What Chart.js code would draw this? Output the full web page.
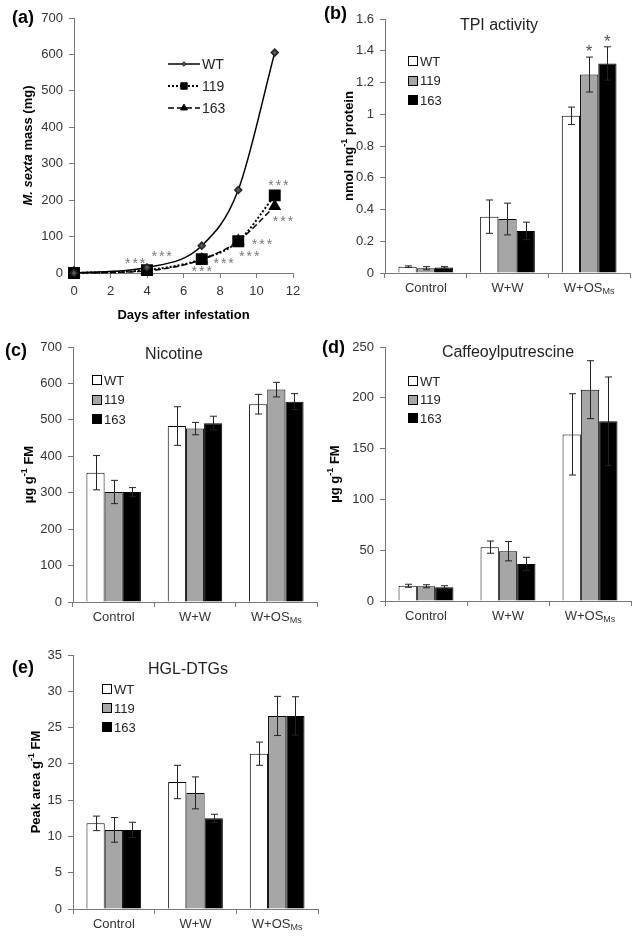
<!DOCTYPE html>
<html>
<head>
<meta charset="utf-8">
<script src="https://cdn.jsdelivr.net/npm/chart.js@4.4.1/dist/chart.umd.min.js"></script>
<style>
  html, body { margin: 0; padding: 0; background: #fff; }
  #page { position: relative; width: 644px; height: 943px; }
  #page canvas { position: absolute; }
</style>
</head>
<body>
<div id="page">
  <canvas id="chartA" width="322" height="330" style="left:0;top:0"></canvas>
  <canvas id="chartB" width="322" height="310" style="left:322px;top:0"></canvas>
  <canvas id="chartC" width="322" height="300" style="left:0;top:330px"></canvas>
  <canvas id="chartD" width="322" height="320" style="left:322px;top:310px"></canvas>
  <canvas id="chartE" width="322" height="313" style="left:0;top:630px"></canvas>
</div>
<script>
// ---- data ----
const groups = ['Control', 'W+W', 'W+OS_Ms'];
const lines = ['WT', '119', '163'];
const barFill = ['#ffffff', '#a6a6a6', '#000000'];

// (a) larval mass, mg
const days = [0, 4, 7, 9, 11];
const massWT = [0, 15, 75, 228, 605];
const mass119 = [0, 8, 38, 87, 213];
const mass163 = [0, 6, 37, 88, 183];
const massTicksX = [0, 12, 2];
const massTicksY = [0, 700, 100];
// where the "***" marks sit, in data units (day, mg)
const massStars = [[3.35, 36], [4.8, 55], [7.0, 14], [8.2, 36], [9.6, 56], [10.3, 89], [11.2, 251], [11.45, 151]];

// (b) TPI activity, rows = WT, 119, 163
const tpiMean = [[0.04, 0.355, 0.99], [0.03, 0.34, 1.25], [0.035, 0.265, 1.32]];
const tpiErr = [[0.005, 0.105, 0.055], [0.01, 0.10, 0.11], [0.005, 0.055, 0.105]];
const tpiStars = [[1, 2], [2, 2]]; // [line, group]

// (c) nicotine
const nicMean = [[355, 483, 543], [302, 476, 583], [302, 491, 550]];
const nicErr = [[47, 53, 27], [32, 17, 20], [12, 19, 22]];

// (d) caffeoylputrescine
const cpMean = [[15, 53, 164], [14.5, 49, 208], [13.5, 36.5, 177]];
const cpErr = [[1.5, 6, 40], [1.5, 9.5, 28.5], [1.5, 6.5, 43.5]];

// (e) HGL-DTGs
const hglMean = [[11.8, 17.5, 21.4], [10.9, 16.0, 26.6], [10.9, 12.5, 26.6]];
const hglErr = [[1.0, 2.3, 1.6], [1.7, 2.2, 2.7], [1.05, 0.55, 2.65]];

// ---- drawing helpers ----
const FONT = "'Liberation Sans', Arial, sans-serif";
const AXIS = '#777';

function segFont(s, size, weight) {
  const small = s[1] === 'sup' || s[1] === 'sub';
  return (s[1] === 'i' ? 'italic ' : '') + weight + ' ' + (small ? Math.round(size * 0.72) : size) + 'px ' + FONT;
}

function drawRich(ctx, segs, x, y, size, weight, align) {
  let w = 0;
  segs.forEach(s => { ctx.font = segFont(s, size, weight); w += ctx.measureText(s[0]).width; });
  let cx = align === 'center' ? x - w / 2 : x;
  ctx.textAlign = 'left';
  segs.forEach(s => {
    ctx.font = segFont(s, size, weight);
    const dy = s[1] === 'sup' ? -size * 0.35 : (s[1] === 'sub' ? size * 0.28 : 0);
    ctx.fillText(s[0], cx, y + dy);
    cx += ctx.measureText(s[0]).width;
  });
}

function parseLabel(t) {
  const p = t.split('_');
  return p.length > 1 ? [[p[0], ''], [p[1], 'sub']] : [[t, '']];
}

const decor = {
  id: 'decor',
  afterDatasetsDraw(chart, args, o) {
    const ctx = chart.ctx, ys = chart.scales.y;
    ctx.save();
    // error bars
    chart.data.datasets.forEach((ds, d) => {
      if (!ds.errors) return;
      const meta = chart.getDatasetMeta(d);
      meta.data.forEach((bar, i) => {
        const y1 = ys.getPixelForValue(ds.data[i] + ds.errors[i]);
        const y2 = ys.getPixelForValue(ds.data[i] - ds.errors[i]);
        const x = Math.round(bar.x) + 0.5;
        ctx.strokeStyle = '#222';
        ctx.lineWidth = 1;
        ctx.beginPath();
        ctx.moveTo(x, y1); ctx.lineTo(x, y2);
        ctx.moveTo(x - 3.5, y1); ctx.lineTo(x + 3.5, y1);
        ctx.moveTo(x - 3.5, y2); ctx.lineTo(x + 3.5, y2);
        ctx.stroke();
      });
    });
    // significance stars over bars
    if (o.barStars) {
      ctx.fillStyle = '#555';
      ctx.font = '17px ' + FONT;
      ctx.textAlign = 'center';
      ctx.textBaseline = 'alphabetic';
      o.barStars.forEach(([d, i]) => {
        const ds = chart.data.datasets[d];
        const bar = chart.getDatasetMeta(d).data[i];
        const top = ys.getPixelForValue(ds.data[i] + ds.errors[i]);
        ctx.fillText('*', bar.x, top - 10 + 17 * 0.6);
      });
    }
    // significance stars on the growth curve
    if (o.pointStars) {
      const xs = chart.scales.x;
      ctx.fillStyle = '#777';
      ctx.font = '14px ' + FONT;
      ctx.letterSpacing = '2px';
      ctx.textAlign = 'center';
      ctx.textBaseline = 'alphabetic';
      o.pointStars.forEach(([px, py]) => {
        ctx.fillText('***', xs.getPixelForValue(px) + 1, ys.getPixelForValue(py) + 14 * 0.6);
      });
      ctx.letterSpacing = '0px';
    }
    ctx.restore();
  },
  afterDraw(chart, args, o) {
    const ctx = chart.ctx, area = chart.chartArea;
    ctx.save();
    ctx.fillStyle = '#000';
    ctx.textBaseline = 'middle';
    // panel letter
    ctx.font = 'bold 18px ' + FONT;
    ctx.textAlign = 'left';
    ctx.fillText(o.panel[0], o.panel[1], o.panel[2]);
    // panel title
    if (o.title) {
      ctx.font = '16px ' + FONT;
      ctx.fillStyle = '#222';
      ctx.textAlign = 'center';
      ctx.fillText(o.title[0], o.title[1], o.title[2]);
    }
    // y axis title
    ctx.fillStyle = '#000';
    ctx.save();
    ctx.translate(o.yTitle[1], (area.top + area.bottom) / 2);
    ctx.rotate(-Math.PI / 2);
    drawRich(ctx, o.yTitle[0], 0, 0, 13, 'bold', 'center');
    ctx.restore();
    // x axis title
    if (o.xTitle) {
      drawRich(ctx, [[o.xTitle[0], '']], (area.left + area.right) / 2, o.xTitle[1], 13, 'bold', 'center');
    }
    // category labels with subscripts
    if (o.catLabels) {
      const xs = chart.scales.x;
      ctx.fillStyle = '#333';
      chart.data.labels.forEach((lab, i) => {
        drawRich(ctx, parseLabel(lab), xs.getPixelForValue(i), area.bottom + o.catLabels, 13, 'normal', 'center');
      });
    }
    // legend
    const lg = o.legend;
    chart.data.datasets.forEach((ds, k) => {
      const y = lg.y + k * lg.gap;
      if (lg.type === 'box') {
        ctx.fillStyle = ds.backgroundColor;
        ctx.fillRect(lg.x, Math.round(y) - 5, 10, 10);
        ctx.strokeStyle = '#000';
        ctx.lineWidth = 1;
        ctx.strokeRect(lg.x + 0.5, Math.round(y) - 4.5, 9, 9);
        ctx.fillStyle = '#222';
        ctx.font = '13px ' + FONT;
        ctx.textAlign = 'left';
        ctx.fillText(ds.label, lg.x + 12, y + 1);
      } else {
        ctx.strokeStyle = ds.borderColor;
        ctx.lineWidth = ds.borderWidth;
        ctx.setLineDash(ds.borderDash || []);
        ctx.beginPath();
        ctx.moveTo(lg.x, y); ctx.lineTo(lg.x + 32, y);
        ctx.stroke();
        ctx.setLineDash([]);
        ctx.fillStyle = ds.pointBackgroundColor;
        ctx.strokeStyle = ds.pointBorderColor;
        ctx.lineWidth = 1;
        Chart.helpers.drawPoint(ctx, { pointStyle: ds.pointStyle, radius: ds.pointRadius * 0.65, rotation: 0, borderWidth: 1 }, lg.x + 16, y);
        ctx.fillStyle = '#222';
        ctx.font = '14px ' + FONT;
        ctx.textAlign = 'left';
        ctx.fillText(ds.label, lg.x + 34, y + 1);
      }
    });
    ctx.restore();
  }
};

function numAxis(range, width, pos) {
  return {
    type: 'linear',
    position: pos,
    min: range[0], max: range[1],
    ticks: {
      stepSize: range[2], color: '#333', padding: 6,
      font: { family: FONT, size: 13 },
      callback: v => String(Number(v.toFixed(2)))
    },
    grid: { drawOnChartArea: false, color: AXIS, tickLength: 5 },
    border: { color: AXIS },
    afterFit: s => { if (pos === 'left') s.width = width; else s.height = width; }
  };
}

function barChart(id, means, errs, yRange, box, extra) {
  const canvas = document.getElementById(id);
  return new Chart(canvas, {
    type: 'bar',
    data: {
      labels: groups,
      datasets: lines.map((name, k) => ({
        label: name,
        data: means[k],
        errors: errs[k],
        backgroundColor: barFill[k],
        borderColor: '#000',
        borderWidth: 1,
        categoryPercentage: 0.67,
        barPercentage: 1.0
      }))
    },
    options: {
      responsive: false,
      animation: false,
      layout: { padding: { left: 0, top: box.top, right: canvas.width - box.right, bottom: 0 } },
      scales: {
        x: {
          type: 'category',
          offset: true,
          grid: { offset: true, drawOnChartArea: false, color: AXIS, tickLength: 5 },
          border: { color: AXIS },
          ticks: { display: false },
          afterFit: s => { s.height = canvas.height - box.bottom; }
        },
        y: numAxis(yRange, box.left, 'left')
      },
      plugins: {
        legend: { display: false },
        tooltip: { enabled: false },
        decor: Object.assign({ catLabels: 15 }, extra)
      }
    },
    plugins: [decor]
  });
}

// ---- (a) growth curve ----
const canvasA = document.getElementById('chartA');
const toPts = arr => days.map((d, i) => ({ x: d, y: arr[i] }));
new Chart(canvasA, {
  type: 'line',
  data: {
    datasets: [
      { label: 'WT', data: toPts(massWT), borderColor: '#000', borderWidth: 1.5,
        pointStyle: 'rectRot', pointRadius: 3.5, pointBackgroundColor: '#555', pointBorderColor: '#222',
        cubicInterpolationMode: 'monotone', clip: false },
      { label: '119', data: toPts(mass119), borderColor: '#000', borderWidth: 2, borderDash: [2, 2],
        pointStyle: 'rect', pointRadius: 7, pointBackgroundColor: '#000', pointBorderColor: '#000',
        cubicInterpolationMode: 'monotone', clip: false },
      { label: '163', data: toPts(mass163), borderColor: '#000', borderWidth: 1.5, borderDash: [6, 3],
        pointStyle: 'triangle', pointRadius: 6, pointBackgroundColor: '#000', pointBorderColor: '#000',
        cubicInterpolationMode: 'monotone', clip: false }
    ]
  },
  options: {
    responsive: false,
    animation: false,
    layout: { padding: { left: 0, top: 18, right: 322 - 293, bottom: 0 } },
    scales: {
      x: numAxis(massTicksX, 330 - 273, 'bottom'),
      y: numAxis(massTicksY, 74, 'left')
    },
    plugins: {
      legend: { display: false },
      tooltip: { enabled: false },
      decor: {
        panel: ['(a)', 12, 18],
        yTitle: [[['M. sexta', 'i'], [' mass (mg)', '']], 28],
        xTitle: ['Days after infestation', 315],
        legend: { type: 'line', x: 168, y: 64, gap: 22 },
        pointStars: massStars
      }
    }
  },
  plugins: [decor]
});

// ---- (b)-(e) bar panels ----
barChart('chartB', tpiMean, tpiErr, [0, 1.6, 0.2],
  { left: 63, top: 19, right: 308, bottom: 273 },
  { panel: ['(b)', 2, 14], title: ['TPI activity', 177, 26],
    yTitle: [[['nmol mg', ''], ['-1', 'sup'], [' protein', '']], 27],
    legend: { type: 'box', x: 86, y: 61, gap: 19.5 }, barStars: tpiStars });

barChart('chartC', nicMean, nicErr, [0, 700, 100],
  { left: 73, top: 17, right: 317, bottom: 272 },
  { panel: ['(c)', 5, 21], title: ['Nicotine', 174, 25],
    yTitle: [[['\u00b5g g', ''], ['-1', 'sup'], [' FM', '']], 29],
    legend: { type: 'box', x: 92, y: 50, gap: 19.5 } });

barChart('chartD', cpMean, cpErr, [0, 250, 50],
  { left: 63, top: 37, right: 309, bottom: 291 },
  { panel: ['(d)', 0, 38], title: ['Caffeoylputrescine', 186, 43],
    yTitle: [[['\u00b5g g', ''], ['-1', 'sup'], [' FM', '']], 13],
    legend: { type: 'box', x: 86, y: 71, gap: 18.5 } });

barChart('chartE', hglMean, hglErr, [0, 35, 5],
  { left: 73, top: 25, right: 318, bottom: 279 },
  { panel: ['(e)', 12, 38], title: ['HGL-DTGs', 188, 40],
    yTitle: [[['Peak area g', ''], ['-1', 'sup'], [' FM', '']], 36],
    legend: { type: 'box', x: 102, y: 59, gap: 19 } });
</script>
</body>
</html>
